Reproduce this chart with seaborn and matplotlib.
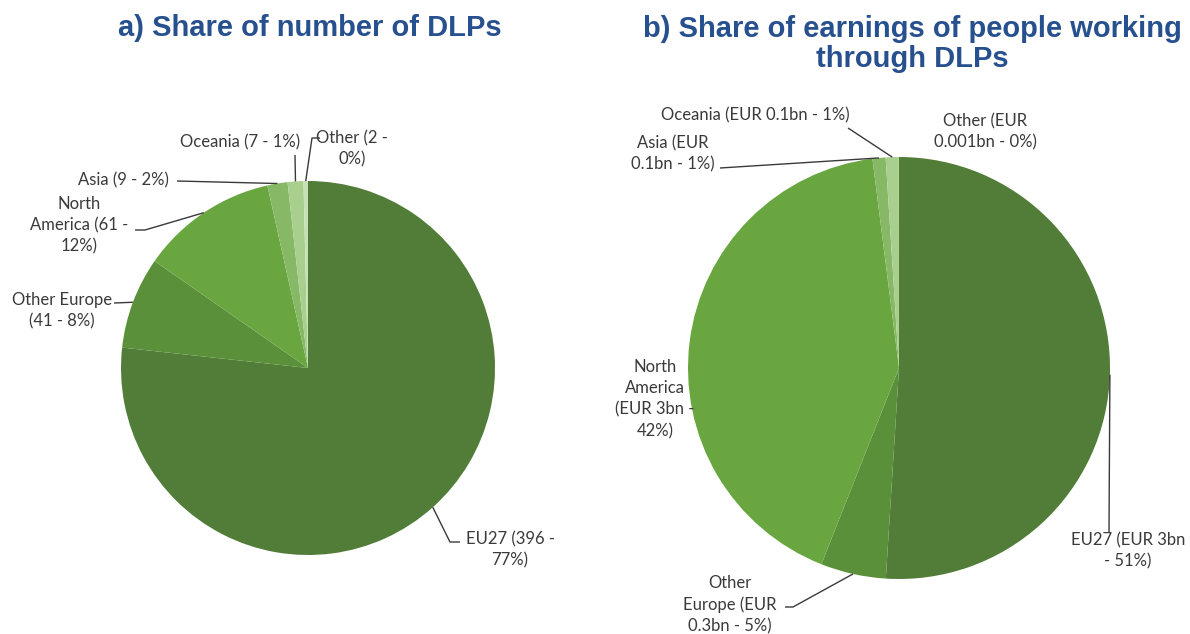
import numpy as np
import matplotlib
matplotlib.use("Agg")
import matplotlib.pyplot as plt
import seaborn as sns

# ---------------- data ----------------
regions = ["EU27", "Other Europe", "North America", "Asia", "Oceania", "Other"]
dlp_counts = [396, 41, 61, 9, 7, 2]
dlp_pct = [77, 8, 12, 2, 1, 0]
earn_share_pct = [51, 5, 42, 1, 1, 0.01]
earn_bn = ["3", "0.3", "3", "0.1", "0.1", "0.001"]

labels_a = ["EU27 (396 -\n77%)", "Other Europe\n(41 - 8%)", "North\nAmerica (61 -\n12%)",
            "Asia (9 - 2%)", "Oceania (7 - 1%)", "Other (2 -\n0%)"]
labels_b = ["EU27 (EUR 3bn\n- 51%)", "Other\nEurope (EUR\n0.3bn - 5%)",
            "North\nAmerica\n(EUR 3bn -\n42%)", "Asia (EUR\n0.1bn - 1%)",
            "Oceania (EUR 0.1bn - 1%)", "Other (EUR\n0.001bn - 0%)"]
title_a = "a) Share of number of DLPs"
title_b = "b) Share of earnings of people working\nthrough DLPs"

# ---------------- style / layout ----------------
sns.set_theme(style="white")
plt.rcParams["font.family"] = ["Lato", "DejaVu Sans"]
colors = ["#517d38", "#5a9039", "#69a640", "#86b866", "#a9cf8f", "#c7e0b5"]
W, H = 1190, 634
TXT = "#3a3a3a"
LINE = "#3a3a3a"

fig = plt.figure(figsize=(W / 100, H / 100), dpi=100)
ax = fig.add_axes([0, 0, 1, 1])

def Y(y):
    return H - y

# pie geometry in pixel units
ca, ra = (308, 368), 187
cb, rb = (899, 368), 211

wa, _ = ax.pie(dlp_counts, colors=colors, startangle=90, counterclock=False,
               center=(ca[0], Y(ca[1])), radius=ra, frame=True,
               wedgeprops=dict(linewidth=0))
wb, _ = ax.pie(earn_share_pct, colors=colors, startangle=90, counterclock=False,
               center=(cb[0], Y(cb[1])), radius=rb, frame=True,
               wedgeprops=dict(linewidth=0))
ax.set_xlim(0, W)
ax.set_ylim(0, H)
ax.set_aspect("auto")
ax.axis("off")

def anchor(w):
    ang = np.deg2rad((w.theta1 + w.theta2) / 2)
    cx, cy = w.center
    return cx + w.r * np.cos(ang), cy + w.r * np.sin(ang)

# label text positions (pixel coords) and leader-line waypoints
pos_a = [(510, 550), (62, 311), (79, 225), (123, 180), (240, 142), (352, 149)]
path_a = [[(450, 542), (460, 542)], [(114, 303)], [(145, 230), (135, 230)],
          [(177, 181)], [(295, 155)], [(312, 138), (320, 138)]]
pos_b = [(1128, 551), (730, 605), (655, 399), (673, 154), (755, 115), (985, 132)]
path_b = [[(1109, 533)], [(793, 607), (785, 607)], None,
          [(720, 168)], [(848, 128)], None]

fs = 12
for wedges, labels, pos, paths in [(wa, labels_a, pos_a, path_a), (wb, labels_b, pos_b, path_b)]:
    for w, lab, p, pth in zip(wedges, labels, pos, paths):
        ax.text(p[0], Y(p[1]), lab, ha="center", va="center", fontsize=fs,
                color=TXT, linespacing=1.4)
        if pth:
            ax0, ay0 = anchor(w)
            xs = [ax0] + [q[0] for q in pth]
            ys = [ay0] + [Y(q[1]) for q in pth]
            ax.plot(xs, ys, color=LINE, lw=1.0, solid_capstyle="butt")

tcol = "#27508f"
ax.text(310, Y(28), title_a, ha="center", va="center", fontsize=21, fontweight="bold",
        color=tcol, family=["Liberation Sans", "DejaVu Sans"])
ax.text(912, Y(44), title_b, ha="center", va="center", fontsize=21, fontweight="bold",
        color=tcol, family=["Liberation Sans", "DejaVu Sans"], linespacing=1.1)

fig.savefig("out.png", dpi=100)
